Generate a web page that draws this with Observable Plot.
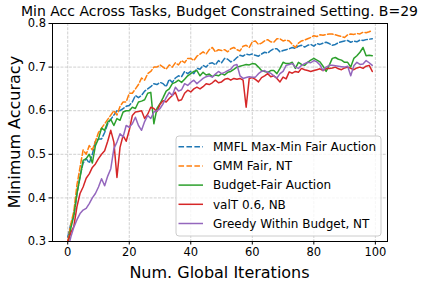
<!DOCTYPE html>
<html>
<head>
<meta charset="utf-8">
<script src="https://cdn.jsdelivr.net/npm/d3@7"></script>
<script src="https://cdn.jsdelivr.net/npm/@observablehq/plot@0.6"></script>
<style>
  body { margin: 0; background: #fff; }
  svg { font-family: "DejaVu Sans", sans-serif; }
</style>
</head>
<body>
<div id="chart"></div>
<script>
const titleText = "Min Acc Across Tasks, Budget Constrained Setting. B=29";
const xLabel = "Num. Global Iterations";
const yLabel = "Minimum Accuracy";
const xTicks = [0, 20, 40, 60, 80, 100];
const yTicks = [0.3, 0.4, 0.5, 0.6, 0.7, 0.8];
const seriesNames = ["MMFL Max-Min Fair Auction", "GMM Fair, NT", "Budget-Fair Auction", "valT 0.6, NB", "Greedy Within Budget, NT"];
const seriesColors = ["#1f77b4", "#ff7f0e", "#2ca02c", "#d62728", "#9467bd"];
const seriesDashed = [true, true, false, false, false];

const mmfl = [0.31,0.34,0.36,0.41,0.45,0.48,0.49,0.48,0.50,0.53,0.535,0.535,0.55,0.57,0.58,0.59,0.60,0.60,0.605,0.61,
  0.612,0.62,0.635,0.63,0.635,0.645,0.65,0.655,0.662,0.66,0.665,0.662,0.655,0.672,0.665,0.675,0.68,0.678,0.69,0.685,
  0.69,0.685,0.697,0.695,0.704,0.70,0.708,0.71,0.705,0.715,0.71,0.72,0.718,0.712,0.715,0.722,0.727,0.725,0.73,0.728,
  0.73,0.727,0.725,0.73,0.734,0.732,0.738,0.742,0.742,0.735,0.738,0.74,0.742,0.745,0.743,0.748,0.75,0.746,0.75,0.752,
  0.748,0.754,0.752,0.755,0.757,0.754,0.75,0.752,0.756,0.758,0.76,0.761,0.757,0.76,0.758,0.762,0.761,0.763,0.764,0.765];
const gmm = [0.30,0.34,0.37,0.43,0.47,0.51,0.50,0.52,0.51,0.53,0.55,0.56,0.57,0.58,0.59,0.60,0.59,0.61,0.62,0.62,
  0.64,0.64,0.65,0.66,0.675,0.67,0.685,0.69,0.70,0.70,0.705,0.70,0.695,0.705,0.70,0.71,0.705,0.715,0.71,0.72,
  0.72,0.715,0.725,0.73,0.735,0.73,0.74,0.745,0.735,0.74,0.738,0.74,0.735,0.742,0.745,0.74,0.737,0.748,0.75,0.745,
  0.758,0.76,0.752,0.755,0.76,0.763,0.758,0.757,0.765,0.765,0.76,0.762,0.76,0.752,0.745,0.755,0.76,0.762,0.765,0.768,
  0.772,0.77,0.774,0.773,0.775,0.776,0.776,0.774,0.772,0.77,0.768,0.774,0.776,0.775,0.777,0.776,0.78,0.779,0.781,0.784];
const budgetFair = [0.29,0.33,0.36,0.41,0.447,0.486,0.49,0.50,0.48,0.52,0.536,0.56,0.555,0.574,0.58,0.566,0.582,0.578,0.597,0.60,
  0.60,0.608,0.605,0.62,0.622,0.625,0.64,0.642,0.57,0.605,0.616,0.63,0.645,0.65,0.662,0.665,0.67,0.665,0.672,0.68,
  0.685,0.69,0.692,0.68,0.688,0.682,0.684,0.678,0.682,0.68,0.685,0.682,0.688,0.69,0.695,0.70,0.702,0.704,0.706,0.705,
  0.708,0.707,0.70,0.692,0.69,0.688,0.692,0.692,0.685,0.697,0.711,0.708,0.708,0.711,0.697,0.711,0.706,0.704,0.711,0.716,
  0.72,0.716,0.712,0.702,0.69,0.704,0.72,0.722,0.718,0.716,0.711,0.711,0.70,0.72,0.726,0.734,0.745,0.726,0.727,0.726];
const valT = [0.30,0.32,0.335,0.38,0.41,0.425,0.445,0.455,0.47,0.478,0.49,0.50,0.508,0.53,0.555,0.528,0.447,0.516,0.543,0.53,
  0.555,0.589,0.597,0.598,0.60,0.582,0.592,0.608,0.605,0.598,0.615,0.623,0.62,0.628,0.635,0.642,0.623,0.625,0.64,0.647,
  0.643,0.65,0.654,0.65,0.655,0.662,0.66,0.664,0.67,0.664,0.666,0.672,0.674,0.67,0.674,0.672,0.674,0.67,0.608,0.674,
  0.676,0.672,0.666,0.676,0.68,0.685,0.678,0.68,0.674,0.666,0.677,0.673,0.689,0.686,0.69,0.688,0.697,0.694,0.692,0.69,
  0.692,0.694,0.696,0.692,0.697,0.697,0.698,0.70,0.696,0.694,0.698,0.70,0.697,0.694,0.698,0.70,0.697,0.702,0.704,0.69];
const greedy = [0.28,0.31,0.333,0.35,0.364,0.372,0.376,0.387,0.40,0.41,0.425,0.444,0.428,0.45,0.467,0.513,0.528,0.547,0.54,0.566,
  0.562,0.57,0.585,0.566,0.555,0.575,0.589,0.582,0.597,0.60,0.605,0.616,0.63,0.642,0.635,0.654,0.645,0.648,0.662,0.658,
  0.665,0.67,0.662,0.668,0.674,0.678,0.68,0.677,0.684,0.69,0.685,0.688,0.692,0.695,0.704,0.706,0.68,0.674,0.676,0.678,
  0.677,0.677,0.685,0.69,0.692,0.688,0.686,0.68,0.675,0.685,0.69,0.704,0.706,0.708,0.70,0.697,0.704,0.708,0.711,0.71,
  0.715,0.712,0.705,0.692,0.70,0.704,0.704,0.703,0.702,0.701,0.70,0.702,0.68,0.703,0.711,0.706,0.707,0.715,0.71,0.704];

const seriesValues = [mmfl, gmm, budgetFair, valT, greedy];

const lineMarks = seriesValues.map((vals, k) => Plot.line(
  vals.map((v, i) => ({iter: i, acc: v})),
  {x: "iter", y: "acc", stroke: seriesColors[k], strokeWidth: 1.5,
   strokeDasharray: seriesDashed[k] ? "5.55,2.4" : null, clip: true}
));

const chart = Plot.plot({
  width: 431,
  height: 287,
  marginLeft: 52,
  marginRight: 44,
  marginTop: 23,
  marginBottom: 46,
  style: {fontFamily: "DejaVu Sans, sans-serif", fontSize: "11.5px", background: "white", color: "black"},
  x: {domain: [-4.95, 103.95]},
  y: {domain: [0.3, 0.8]},
  marks: [
    Plot.gridX(xTicks, {stroke: "#c4c4c4", strokeOpacity: 1, strokeWidth: 0.8, strokeDasharray: "2.96,1.28"}),
    Plot.gridY(yTicks, {stroke: "#c4c4c4", strokeOpacity: 1, strokeWidth: 0.8, strokeDasharray: "2.96,1.28"}),
    ...lineMarks,
    Plot.frame({stroke: "black", strokeWidth: 1}),
    Plot.axisX({ticks: xTicks, tickSize: 3.5, tickPadding: 3, label: null, fontSize: 11.5}),
    Plot.axisY({ticks: yTicks, tickSize: 3.5, tickPadding: 3, label: null, fontSize: 11.5, tickFormat: d => d.toFixed(1)})
  ]
});

document.getElementById("chart").appendChild(chart);

const svg = d3.select(chart);
svg.append("text").attr("x", 219.5).attr("y", 15.5).attr("text-anchor", "middle")
  .attr("font-size", 14).attr("fill", "black").text(titleText);
svg.append("text").attr("x", 219.5).attr("y", 277.5).attr("text-anchor", "middle")
  .attr("font-size", 16).attr("fill", "black").text(xLabel);
svg.append("text").attr("transform", "translate(20,132) rotate(-90)").attr("text-anchor", "middle")
  .attr("font-size", 16).attr("fill", "black").text(yLabel);

const lg = svg.append("g");
lg.append("rect").attr("x", 176).attr("y", 136).attr("width", 205).attr("height", 100).attr("rx", 3)
  .attr("fill", "white").attr("fill-opacity", 0.8).attr("stroke", "#cccccc").attr("stroke-width", 1);
seriesNames.forEach((name, k) => {
  const yy = 146.7 + k * 19.2;
  lg.append("line").attr("x1", 178.5).attr("x2", 203).attr("y1", yy).attr("y2", yy)
    .attr("stroke", seriesColors[k]).attr("stroke-width", 1.5)
    .attr("stroke-dasharray", seriesDashed[k] ? "5.55,2.4" : null);
  lg.append("text").attr("x", 213).attr("y", yy).attr("dy", "0.36em").attr("text-anchor", "start")
    .attr("font-size", 12).attr("fill", "black").text(name);
});
</script>
</body>
</html>
